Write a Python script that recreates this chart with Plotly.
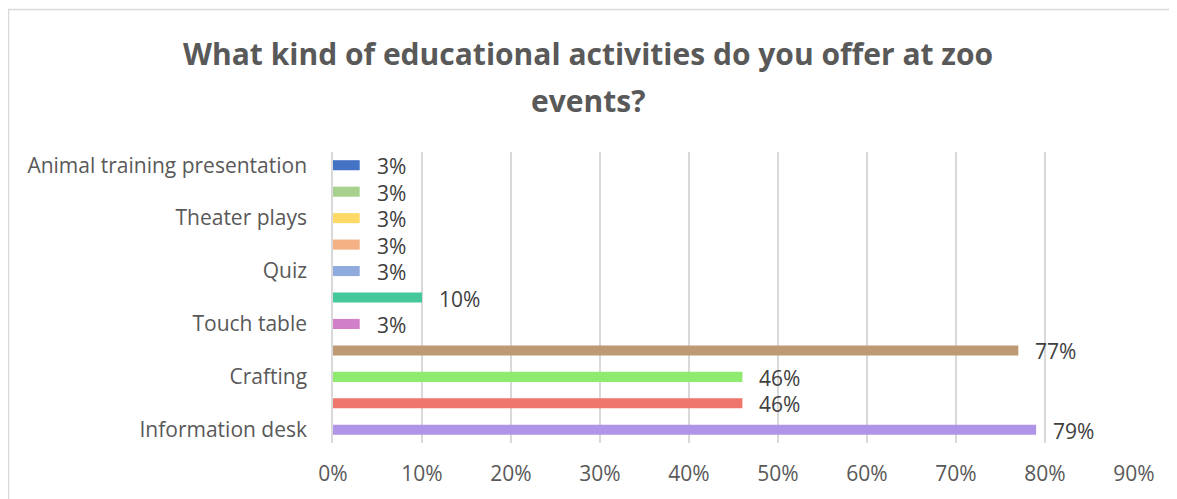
import plotly.graph_objects as go

# categories bottom -> top (Excel shows every other label only)
categories = ["Information desk", "", "Crafting", "", "Touch table", "",
              "Quiz", "", "Theater plays", "", "Animal training presentation"]
shares = [0.79, 0.46, 0.46, 0.77, 0.03, 0.10, 0.03, 0.03, 0.03, 0.03, 0.03]
bar_colours = ["#B094E8", "#EE766D", "#8FEB70", "#BE9A74", "#D17FC8", "#45C89A",
               "#8FAADC", "#F4B183", "#FFD966", "#A9D18E", "#4472C4"]
x_ticks = [0, 0.1, 0.2, 0.3, 0.4, 0.5, 0.6, 0.7, 0.8, 0.9]

ypos = list(range(len(categories)))
# page body has an 8px margin, so the figure sits at (8, 8) in the window
W, H = 1169, 491
L, R, T, B = 325, 43, 144, 54
pw, ph = W - L - R, H - T - B

fig = go.Figure()
fig.add_trace(go.Bar(
    x=shares, y=ypos, orientation="h",
    marker=dict(color=bar_colours, line_width=0),
    width=0.38, hoverinfo="skip",
))

# data labels, offset right of the bar end like Excel's "outside end"
for v, y in zip(shares, ypos):
    fig.add_annotation(x=v, y=y, text=f"{v * 100:.0f}%", showarrow=False,
                       xanchor="left", xshift=15, yshift=-1,
                       font=dict(size=21, color="#404040"))

title_font = dict(family="Open Sans", size=30, color="#595959")
fig.add_annotation(xref="paper", yref="paper", x=(580 - L) / pw, y=(H - B - 45) / ph,
                   text="<b>What kind of educational activities do you offer at zoo</b>",
                   showarrow=False, xanchor="center", yanchor="middle", font=title_font)
fig.add_annotation(xref="paper", yref="paper", x=(580 - L) / pw, y=(H - B - 92) / ph,
                   text="<b>events?</b>",
                   showarrow=False, xanchor="center", yanchor="middle", font=title_font)

# chart border (right/bottom cut off in the original picture)
fig.add_shape(type="rect", xref="paper", yref="paper",
              x0=(0.5 - L) / pw, x1=(W + 20 - L) / pw,
              y0=-(B + 20) / ph, y1=(H - B - 0.5) / ph,
              line=dict(color="#D9D9D9", width=1.5), layer="below")

fig.update_xaxes(range=[0, 0.9], tickvals=x_ticks, tickformat=".0%",
                 showgrid=True, gridcolor="#D9D9D9", gridwidth=1.5,
                 zeroline=False, showline=False, ticks="",
                 ticklabelstandoff=16,
                 tickfont=dict(size=21, color="#595959"))
fig.update_yaxes(range=[-0.5, len(categories) - 0.5],
                 tickvals=ypos[::2], ticktext=categories[::2],
                 showgrid=False, zeroline=False,
                 showline=True, linecolor="#D9D9D9", linewidth=1.5,
                 ticks="", ticklabelstandoff=20,
                 tickfont=dict(size=21, color="#595959"))

fig.update_layout(
    width=W, height=H,
    margin=dict(l=L, r=R, t=T, b=B),
    paper_bgcolor="white", plot_bgcolor="white",
    font=dict(family="Open Sans"),
    showlegend=False, bargap=0.6,
)

fig.write_html("out.html")
